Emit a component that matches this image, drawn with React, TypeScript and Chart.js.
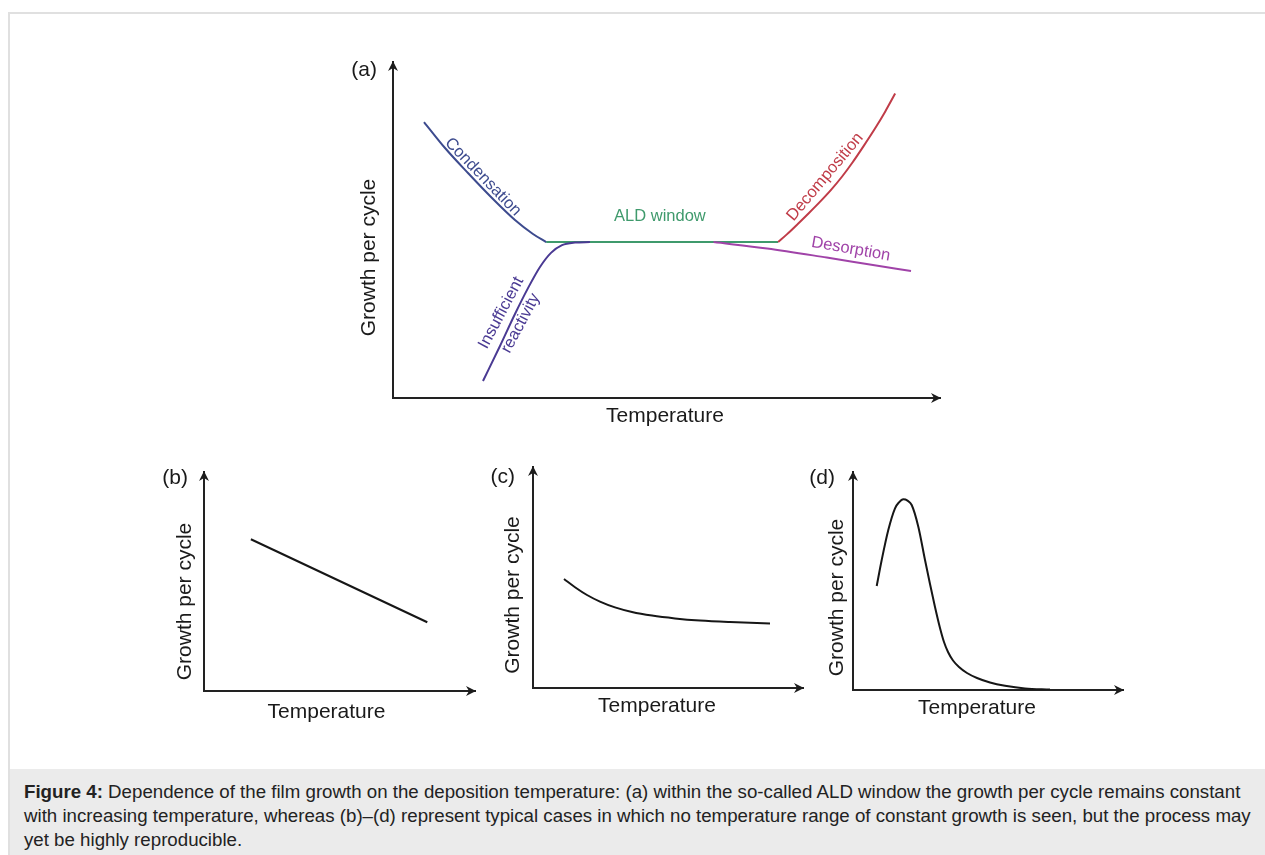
import React, { useEffect, useRef } from "react";
import { Chart, registerables } from "chart.js";

Chart.register(...registerables);

const PAGE_W = 1265;
const PAGE_H = 855;
const FONT = "'Liberation Sans', Arial, sans-serif";

// ---------- Panel (a) ----------
const condensationX = [5.67, 9.51, 13.71, 18.1, 22.3, 25.59, 28.0];
const condensationY = [82.14, 74.4, 66.96, 59.52, 52.98, 48.81, 46.4];
const aldWindowX = [28.0, 70.4];
const aldWindowY = [46.4, 46.4];
const insufficientX = [16.45, 19.56, 22.3, 24.68, 26.87, 28.88, 30.9, 33.27, 36.0];
const insufficientY = [5.06, 15.48, 25.0, 32.7, 39.0, 43.2, 45.5, 46.25, 46.4];
const decompositionX = [70.4, 72, 74, 76, 78, 80, 82, 84, 86, 88, 90, 91.8];
const decompositionY = [46.4, 48.7, 51.8, 55.0, 58.3, 61.8, 65.7, 70.1, 74.9, 79.9, 85.3, 90.6];
const desorptionX = [58.6, 68.4, 79.3, 86.6, 94.7];
const desorptionY = [46.4, 44.5, 41.8, 39.9, 37.8];

// ---------- Panel (b) ----------
const bX = [17.3, 82.4];
const bY = [69.3, 31.4];

// ---------- Panel (c) ----------
const cX = [11.48, 15.56, 20.0, 24.81, 30.37, 36.67, 44.07, 52.59, 61.85, 72.96, 87.78];
const cY = [49.32, 45.61, 42.08, 39.1, 36.47, 34.39, 32.76, 31.49, 30.54, 29.86, 29.23];

// ---------- Panel (d) ----------
const dX = [
  8.78, 10.63, 13.07, 15.56, 17.04, 18.63, 20.19, 21.74, 24.19, 26.67, 28.52, 30.37,
  32.22, 33.7, 35.19, 37.04, 39.26, 42.22, 45.93, 50.74, 56.3, 63.7, 72.96,
];
const dY = [
  47.71, 59.63, 73.39, 83.35, 86.1, 87.48, 86.88, 84.86, 74.91, 59.63, 48.62, 38.07,
  28.44, 22.02, 17.43, 13.53, 10.55, 7.8, 5.5, 3.44, 1.93, 0.69, 0.2,
];

// ---------- Texts ----------
const yAxisTitle = "Growth per cycle";
const xAxisTitle = "Temperature";

const COLORS = {
  condensation: "#3d4b8e",
  insufficient: "#4a3a93",
  ald: "#3f9a6c",
  decomposition: "#c03c48",
  desorption: "#a043a8",
  black: "#161616",
};

type Label = { text: string[]; x: number; y: number; angle: number; color: string; lh?: number };

const aLabels: Label[] = [
  { text: ["Condensation"], x: 16.45, y: 65.8, angle: 46, color: COLORS.condensation },
  { text: ["ALD window"], x: 48.8, y: 53.9, angle: 0, color: COLORS.ald },
  { text: ["Decomposition"], x: 79.0, y: 65.8, angle: -50, color: COLORS.decomposition },
  { text: ["Desorption"], x: 83.7, y: 44.3, angle: 10, color: COLORS.desorption },
  { text: ["Insufficient", "reactivity"], x: 21.57, y: 23.8, angle: -62, color: COLORS.insufficient, lh: 22 },
];

type Box = { left: number; top: number; right: number; bottom: number };
type Offsets = { yt: [number, number]; xt: [number, number]; letter: [number, number] };

type Panel = {
  key: string;
  letter: string;
  box: Box;
  offsets: Offsets;
  series: { xs: number[]; ys: number[]; color: string }[];
  labels: Label[];
};

const panels: Panel[] = [
  {
    key: "a",
    letter: "(a)",
    box: { left: 393, top: 62, right: 940, bottom: 398 },
    offsets: { yt: [-24, 27.5], xt: [-1.5, 18], letter: [-16, 8] },
    series: [
      { xs: insufficientX, ys: insufficientY, color: COLORS.insufficient },
      { xs: desorptionX, ys: desorptionY, color: COLORS.desorption },
      { xs: decompositionX, ys: decompositionY, color: COLORS.decomposition },
      { xs: condensationX, ys: condensationY, color: COLORS.condensation },
      { xs: aldWindowX, ys: aldWindowY, color: COLORS.ald },
    ],
    labels: aLabels,
  },
  {
    key: "b",
    letter: "(b)",
    box: { left: 204, top: 472, right: 475, bottom: 691 },
    offsets: { yt: [-19, 20], xt: [-13, 21], letter: [-16, 6] },
    series: [{ xs: bX, ys: bY, color: COLORS.black }],
    labels: [],
  },
  {
    key: "c",
    letter: "(c)",
    box: { left: 533, top: 467, right: 803, bottom: 688 },
    offsets: { yt: [-20, 17.5], xt: [-11, 18.7], letter: [-18, 10] },
    series: [{ xs: cX, ys: cY, color: COLORS.black }],
    labels: [],
  },
  {
    key: "d",
    letter: "(d)",
    box: { left: 853, top: 472, right: 1123, bottom: 690 },
    offsets: { yt: [-16, 16.5], xt: [-11, 18], letter: [-18, 6] },
    series: [{ xs: dX, ys: dY, color: COLORS.black }],
    labels: [],
  },
];

function makeDecorPlugin(panel: Panel) {
  return {
    id: "decor_" + panel.key,
    afterDraw(chart: any) {
      const ctx = chart.ctx as CanvasRenderingContext2D;
      const area = chart.chartArea;
      const xs = chart.scales.x;
      const ys = chart.scales.y;
      ctx.save();
      // arrowheads
      ctx.fillStyle = "#1c1c1c";
      const up = (x: number, y: number) => {
        ctx.beginPath();
        ctx.moveTo(x, y - 1);
        ctx.lineTo(x - 5, y + 9);
        ctx.lineTo(x, y + 6);
        ctx.lineTo(x + 5, y + 9);
        ctx.closePath();
        ctx.fill();
      };
      const right = (x: number, y: number) => {
        ctx.beginPath();
        ctx.moveTo(x + 1, y);
        ctx.lineTo(x - 9, y - 5);
        ctx.lineTo(x - 6, y);
        ctx.lineTo(x - 9, y + 5);
        ctx.closePath();
        ctx.fill();
      };
      up(area.left, area.top);
      right(area.right, area.bottom);

      // axis titles
      ctx.fillStyle = "#1a1a1a";
      ctx.font = `21px ${FONT}`;
      ctx.textAlign = "center";
      ctx.textBaseline = "middle";
      const cx = (area.left + area.right) / 2;
      const cy = (area.top + area.bottom) / 2;
      ctx.fillText(xAxisTitle, cx + panel.offsets.xt[0], area.bottom + panel.offsets.xt[1]);
      ctx.save();
      ctx.translate(area.left + panel.offsets.yt[0], cy + panel.offsets.yt[1]);
      ctx.rotate(-Math.PI / 2);
      ctx.fillText(yAxisTitle, 0, 0);
      ctx.restore();

      // panel letter
      ctx.textAlign = "right";
      ctx.fillText(panel.letter, area.left + panel.offsets.letter[0], area.top + panel.offsets.letter[1]);

      // curve labels
      ctx.font = `16.5px ${FONT}`;
      ctx.textAlign = "center";
      for (const lb of panel.labels) {
        const px = xs.getPixelForValue(lb.x);
        const py = ys.getPixelForValue(lb.y);
        ctx.save();
        ctx.translate(px, py);
        ctx.rotate((lb.angle * Math.PI) / 180);
        ctx.fillStyle = lb.color;
        const lh = lb.lh ?? 19;
        const n = lb.text.length;
        lb.text.forEach((t, i) => {
          ctx.fillText(t, 0, (i - (n - 1) / 2) * lh);
        });
        ctx.restore();
      }
      ctx.restore();
    },
  };
}

function PanelChart({ panel }: { panel: Panel }) {
  const ref = useRef<HTMLCanvasElement | null>(null);
  useEffect(() => {
    if (!ref.current) return;
    const b = panel.box;
    const chart = new Chart(ref.current, {
      type: "line",
      data: {
        datasets: panel.series.map((s) => ({
          data: s.xs.map((x, i) => ({ x, y: s.ys[i] })),
          borderColor: s.color,
          backgroundColor: s.color,
          borderWidth: 2,
          pointRadius: 0,
          fill: false,
          cubicInterpolationMode: "monotone" as const,
        })),
      },
      options: {
        animation: false,
        responsive: false,
        devicePixelRatio: 1,
        events: [],
        layout: {
          padding: { left: b.left, top: b.top, right: PAGE_W - b.right, bottom: PAGE_H - b.bottom },
        },
        plugins: { legend: { display: false }, tooltip: { enabled: false } },
        scales: {
          x: {
            type: "linear",
            min: 0,
            max: 100,
            grid: { display: false, drawTicks: false },
            ticks: { display: false },
            border: { display: true, color: "#222", width: 2 },
          },
          y: {
            type: "linear",
            min: 0,
            max: 100,
            grid: { display: false, drawTicks: false },
            ticks: { display: false },
            border: { display: true, color: "#222", width: 2 },
          },
        },
      },
      plugins: [makeDecorPlugin(panel)],
    });
    return () => chart.destroy();
  }, [panel]);
  return (
    <canvas
      ref={ref}
      width={PAGE_W}
      height={PAGE_H}
      style={{ position: "absolute", left: 0, top: 0, width: PAGE_W, height: PAGE_H }}
    />
  );
}

export default function App() {
  return (
    <div
      style={{
        position: "absolute",
        left: 0,
        top: 0,
        width: PAGE_W,
        height: PAGE_H,
        overflow: "hidden",
        background: "#fff",
        fontFamily: FONT,
      }}
    >
      <div
        style={{
          position: "absolute",
          left: 8,
          top: 12,
          width: PAGE_W - 8,
          height: PAGE_H - 12,
          borderLeft: "2px solid #e0e0e0",
          borderTop: "2px solid #e0e0e0",
          boxSizing: "border-box",
        }}
      />
      <div
        style={{
          position: "absolute",
          left: 10,
          top: 769,
          width: PAGE_W - 10,
          height: PAGE_H - 769,
          background: "#ebebeb",
          boxSizing: "border-box",
          padding: "11px 0 0 14px",
          fontSize: 18.7,
          lineHeight: "24px",
          color: "#222",
          whiteSpace: "nowrap",
        }}
      >
        <b>Figure 4:</b> Dependence of the film growth on the deposition temperature: (a) within the so-called ALD window the growth per cycle remains constant
        <br />
        with increasing temperature, whereas (b)–(d) represent typical cases in which no temperature range of constant growth is seen, but the process may
        <br />
        yet be highly reproducible.
      </div>
      {panels.map((p) => (
        <PanelChart key={p.key} panel={p} />
      ))}
    </div>
  );
}
